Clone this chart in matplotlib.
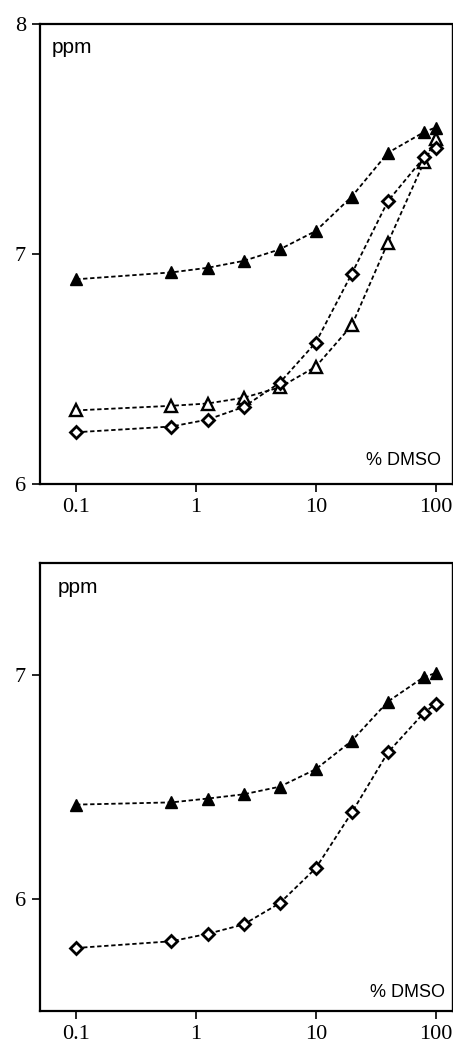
import matplotlib
matplotlib.use("Agg")
import matplotlib.pyplot as plt

# % DMSO (x) - same for every series
dmso = [0.1, 0.625, 1.25, 2.5, 5, 10, 20, 40, 80, 100]
xticks = [0.1, 1, 10, 100]
xtick_labels = ['0.1', '1', '10', '100']

# top panel (ppm)
top_filled_tri = [6.89, 6.92, 6.94, 6.97, 7.02, 7.10, 7.25, 7.44, 7.53, 7.55]
top_open_tri = [6.32, 6.34, 6.35, 6.375, 6.42, 6.51, 6.69, 7.05, 7.40, 7.50]
top_diamond = [6.225, 6.25, 6.28, 6.335, 6.44, 6.615, 6.915, 7.23, 7.42, 7.46]
top_yticks = [6, 7, 8]

# bottom panel (ppm)
bot_filled_tri = [6.42, 6.43, 6.447, 6.466, 6.50, 6.578, 6.705, 6.88, 6.99, 7.007]
bot_diamond = [5.78, 5.81, 5.843, 5.885, 5.98, 6.136, 6.385, 6.653, 6.83, 6.87]
bot_yticks = [6, 7]

fig = plt.figure(figsize=(4.53, 10.55), dpi=100)
ax1 = fig.add_axes([40/453, 1-484/1055, 412/453, 460/1055])
ax2 = fig.add_axes([40/453, 1-1010.7/1055, 412/453, 448/1055])

ls = (0, (2.4, 1.5))
line_kw = dict(color='black', lw=1.3, linestyle=ls)

def filled_tri(ax, y):
    ax.plot(dmso, y, marker='^', ms=8.5, mfc='black', mec='black', mew=1, **line_kw)

def open_tri(ax, y):
    ax.plot(dmso, y, marker='^', ms=8, mfc='white', mec='black', mew=1.7, **line_kw)

def diamond(ax, y):
    ax.plot(dmso, y, marker='D', ms=6.3, mfc='white', mec='black', mew=2, **line_kw)

open_tri(ax1, top_open_tri)
diamond(ax1, top_diamond)
filled_tri(ax1, top_filled_tri)

diamond(ax2, bot_diamond)
filled_tri(ax2, bot_filled_tri)

for ax, ylim, yt in [(ax1, (6, 8), top_yticks), (ax2, (5.5, 7.5), bot_yticks)]:
    ax.set_xscale('log')
    ax.set_xlim(0.05, 137)
    ax.set_ylim(*ylim)
    ax.set_xticks(xticks)
    ax.set_xticklabels(xtick_labels)
    ax.set_yticks(yt)
    ax.set_yticklabels([str(v) for v in yt])
    ax.minorticks_off()
    ax.tick_params(direction='out', length=6, width=1.2, labelsize=16, pad=4)
    for lab in ax.get_xticklabels() + ax.get_yticklabels():
        lab.set_family('Liberation Serif')
    for s in ['left', 'bottom', 'top']:
        ax.spines[s].set_linewidth(1.6)
    ax.spines['right'].set_linewidth(1.0)

ax1.text(0.028, 0.936, 'ppm', transform=ax1.transAxes, fontsize=15,
         family='Liberation Sans', ha='left', va='baseline')
ax1.text(0.973, 0.041, '% DMSO', transform=ax1.transAxes, fontsize=13,
         family='Liberation Sans', ha='right', va='baseline')
ax2.text(0.044, 0.933, 'ppm', transform=ax2.transAxes, fontsize=15,
         family='Liberation Sans', ha='left', va='baseline')
ax2.text(0.983, 0.031, '% DMSO', transform=ax2.transAxes, fontsize=13,
         family='Liberation Sans', ha='right', va='baseline')

fig.savefig('out.png', dpi=100)
